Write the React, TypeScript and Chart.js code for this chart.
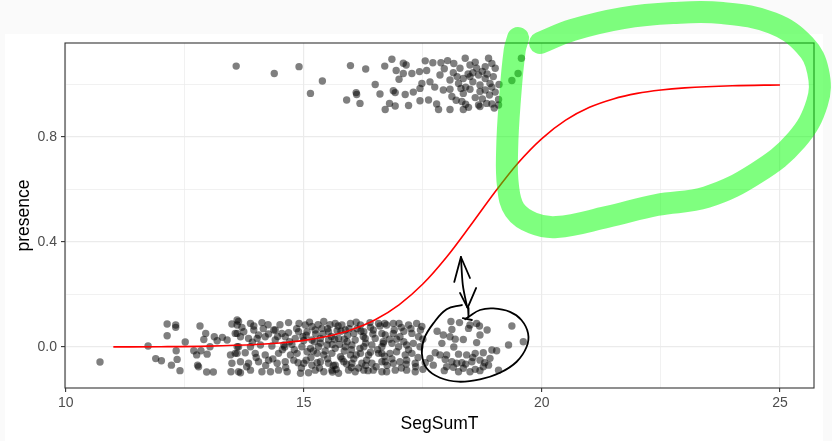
import React, { useEffect, useRef } from 'react';
import { Chart, registerables } from 'chart.js';
Chart.register(...registerables);

const FONT = '"Liberation Sans", Arial, sans-serif';
const X_TITLE = 'SegSumT';
const Y_TITLE = 'presence';
const X_RANGE = [9.985, 25.715];
const Y_RANGE = [-0.156, 1.158];
const X_TICKS = [10, 12.5, 15, 17.5, 20, 22.5, 25];
const X_MAJOR = [10, 15, 20, 25];
const Y_TICKS = [0, 0.2, 0.4, 0.6, 0.8, 1.0];
const Y_MAJOR = [0, 0.4, 0.8];

// presence = 0 (jittered)
const BOTTOM_POINTS: [number, number][] = [
  [10.72, -0.057], [11.73, 0.004], [11.89, -0.044], [12.01, -0.052], [12.13, 0.088], [12.31, 0.084],
  [12.31, 0.075], [12.13, 0.043], [12.32, -0.014], [12.34, -0.047], [12.22, -0.069], [12.40, -0.090],
  [12.51, 0.019], [12.82, 0.080], [12.94, 0.052], [12.90, 0.029], [12.69, -0.014], [12.75, -0.030],
  [12.84, -0.014], [12.97, -0.027], [12.77, -0.069], [12.79, -0.075], [12.96, -0.095], [13.10, -0.095],
  [13.12, 0.039], [13.18, 0.024], [13.29, 0.037], [13.39, 0.027], [13.03, 0.001], [13.49, 0.088],
  [13.60, 0.103], [13.60, 0.084], [13.56, 0.052], [13.46, -0.030], [13.49, -0.062], [13.47, -0.094],
  [13.63, -0.094], [13.60, 0.001], [13.56, -0.024],
  [13.63, 0.097], [13.88, 0.090], [14.12, 0.093], [14.37, 0.065], [14.68, 0.093], [15.03, 0.084],
  [15.17, 0.078], [15.42, 0.097], [15.66, 0.090], [15.80, 0.084], [15.98, 0.090], [16.19, 0.084],
  [16.39, 0.093], [16.57, 0.090],
  [13.60, 0.052], [13.74, 0.058], [13.95, 0.065], [14.05, 0.046], [14.26, 0.050], [14.54, 0.052],
  [14.68, 0.055], [14.89, 0.058], [15.07, 0.058], [15.24, 0.065], [15.38, 0.071], [15.52, 0.058],
  [15.70, 0.062], [15.87, 0.065], [16.05, 0.052], [16.26, 0.058], [16.46, 0.065], [16.64, 0.052],
  [13.67, 0.039], [13.84, 0.033], [14.02, 0.033], [14.19, 0.039], [14.40, 0.027], [14.61, 0.039],
  [14.82, 0.033], [14.98, 0.039], [15.17, 0.027], [15.35, 0.033], [15.52, 0.027], [15.73, 0.033],
  [15.91, 0.020], [16.08, 0.027], [16.29, 0.033], [16.50, 0.033], [16.67, 0.020],
  [13.63, 0.001], [13.88, 0.001], [14.09, 0.008], [14.33, 0.004], [14.58, 0.008], [14.96, 0.001],
  [15.14, -0.005], [15.31, 0.001], [15.49, 0.008], [15.66, -0.005], [15.87, 0.001], [16.01, 0.008],
  [16.26, 0.001], [16.43, 0.008], [16.64, 0.001],
  [13.60, -0.024], [13.77, -0.022], [13.98, -0.024], [14.19, -0.030], [14.47, -0.024], [14.72, -0.030],
  [14.86, -0.024], [15.07, -0.018], [15.28, -0.024], [15.42, -0.030], [15.59, -0.024], [15.77, -0.037],
  [15.98, -0.030], [16.19, -0.024], [16.36, -0.030], [16.57, -0.024],
  [13.67, -0.056], [13.84, -0.062], [14.05, -0.056], [14.26, -0.050], [14.44, -0.062], [14.61, -0.056],
  [14.79, -0.050], [15.00, -0.062], [15.17, -0.069], [15.35, -0.056], [15.52, -0.062], [15.66, -0.069],
  [15.84, -0.056], [16.01, -0.062], [16.22, -0.062], [16.43, -0.062], [16.64, -0.056],
  [13.67, -0.098], [13.88, -0.088], [14.12, -0.094], [14.30, -0.094], [14.47, -0.088], [14.65, -0.094],
  [14.93, -0.100], [15.10, -0.098], [15.24, -0.088], [15.42, -0.094], [15.59, -0.088], [15.73, -0.100],
  [15.94, -0.088], [16.08, -0.094], [16.26, -0.088], [16.46, -0.088], [16.64, -0.094],
  [14.85, 0.070], [15.05, 0.045], [15.22, 0.020], [15.40, 0.050], [15.55, 0.085], [15.60, 0.010],
  [15.78, 0.060], [15.92, 0.045], [16.12, 0.070], [16.30, 0.015], [15.15, -0.040], [15.33, -0.080],
  [15.50, -0.045], [15.68, -0.085], [15.85, -0.015], [16.05, -0.045], [16.15, -0.080], [16.32, -0.050],
  [16.52, -0.075], [16.70, -0.035], [16.90, 0.065], [17.05, 0.075], [17.20, -0.010], [17.35, -0.075],
  [17.50, 0.030], [17.55, -0.060], [14.40, 0.065], [14.55, -0.010], [14.75, 0.010], [14.20, -0.070],
  [14.95, -0.080], [16.80, 0.030], [17.10, 0.060], [17.45, 0.065], [16.40, 0.075],
  [13.70, 0.075], [13.92, 0.018], [14.00, -0.040], [14.15, 0.070], [14.35, -0.045], [14.50, 0.085],
  [14.62, -0.078], [14.70, 0.020], [14.88, -0.060], [15.00, 0.025], [15.12, 0.095], [15.28, -0.060],
  [15.30, 0.085], [15.45, -0.015], [15.58, 0.040], [15.62, -0.070], [15.72, 0.080], [15.80, -0.045],
  [15.95, 0.070], [16.00, -0.078], [16.10, 0.095], [16.18, -0.005], [16.25, 0.040], [16.35, -0.090],
  [16.45, 0.050], [16.55, -0.010], [16.60, 0.080], [16.75, -0.070], [16.95, 0.030], [17.05, -0.080],
  [17.10, 0.020], [17.25, 0.070], [17.40, -0.040], [17.50, -0.085], [15.50, 0.070], [15.35, 0.015],
  [15.65, 0.030], [15.85, 0.030], [16.20, 0.060], [16.00, -0.010], [15.20, -0.015], [15.05, -0.050],
  [14.80, -0.010], [14.90, 0.090], [16.40, -0.020], [16.70, 0.090], [16.85, -0.045], [17.00, 0.090],
  [17.15, -0.065], [13.80, -0.075], [13.95, 0.080], [14.25, 0.085], [14.45, 0.040], [14.60, 0.000],
  [15.90, -0.065], [16.10, -0.030], [15.60, -0.095], [15.25, 0.050], [15.75, 0.010], [16.30, -0.070],
  [16.74, 0.084], [16.88, 0.090], [17.20, 0.084], [17.37, 0.090], [17.48, 0.078], [16.71, 0.046],
  [16.88, 0.052], [17.02, 0.039], [17.27, 0.052], [17.41, 0.039], [16.67, 0.014], [16.85, 0.014],
  [16.99, 0.001], [17.16, 0.008], [17.30, 0.014], [17.44, 0.001], [16.64, -0.024], [16.81, -0.024],
  [16.95, -0.018], [17.13, -0.030], [17.27, -0.024], [16.71, -0.056], [16.88, -0.062], [17.02, -0.056],
  [17.16, -0.050], [17.34, -0.062], [16.74, -0.094], [16.92, -0.088], [17.16, -0.088], [17.34, -0.094],
  [18.09, 0.097], [18.27, 0.093], [18.49, 0.084], [18.63, 0.090], [18.69, 0.080], [18.46, 0.071],
  [18.11, 0.067], [18.70, 0.046], [17.93, 0.046], [18.07, 0.039], [18.35, 0.029], [18.63, 0.017],
  [17.90, 0.014], [19.37, 0.080], [19.61, 0.020], [19.30, 0.008], [17.76, -0.022], [17.86, -0.030],
  [18.00, -0.030], [18.25, -0.027], [18.42, -0.030], [18.60, -0.024], [18.77, -0.022], [18.95, -0.011],
  [19.05, -0.014], [17.65, -0.043], [17.97, -0.047], [18.11, -0.056], [18.21, -0.062], [18.32, -0.060],
  [18.53, -0.056], [18.70, -0.050], [18.91, -0.043], [17.72, -0.069], [18.00, -0.075], [18.14, -0.077],
  [18.35, -0.081], [18.60, -0.085], [18.77, -0.075], [18.88, -0.069], [19.09, -0.088], [18.25, -0.094],
  [18.49, -0.094], [18.70, -0.090],
  [18.18, 0.030], [18.55, -0.040], [18.40, -0.065], [18.80, -0.060], [17.95, -0.090], [18.15, 0.000],
  [17.80, 0.060], [18.85, 0.065],
];

// presence = 1 (jittered)
const TOP_POINTS: [number, number][] = [
  [13.58, 1.070], [14.38, 1.042], [14.90, 1.068], [15.39, 1.013], [15.14, 0.966], [15.98, 1.072],
  [16.30, 1.059], [16.10, 0.969], [16.11, 0.962], [15.90, 0.941], [16.18, 0.928],
  [16.85, 1.096], [17.09, 1.081], [17.15, 1.074], [16.94, 1.053], [17.09, 1.042], [17.27, 1.042],
  [17.43, 1.049], [17.58, 1.053], [17.71, 1.083], [17.88, 1.083], [18.02, 1.091], [17.86, 1.036],
  [17.48, 1.004], [18.14, 1.045], [18.28, 1.062], [18.39, 1.100], [18.49, 1.074], [18.63, 1.062],
  [18.81, 1.068], [19.02, 1.062], [18.88, 1.100], [18.07, 1.017], [18.25, 1.004], [18.35, 1.023],
  [18.49, 1.030], [18.67, 1.036], [18.81, 1.023], [18.98, 1.030], [18.91, 1.004], [18.70, 0.998],
  [16.60, 0.964], [16.88, 0.976], [16.92, 0.969], [17.13, 0.962], [17.30, 0.971], [17.44, 0.985],
  [17.93, 0.979], [18.07, 0.982], [18.11, 0.954], [18.35, 0.966], [18.49, 0.982], [18.70, 0.973],
  [18.81, 0.979], [19.02, 0.971], [19.09, 0.943], [16.80, 0.928], [16.92, 0.918], [16.71, 0.905],
  [17.44, 0.938], [17.62, 0.941], [17.79, 0.926], [17.83, 0.905], [18.07, 0.905], [18.32, 0.935],
  [18.46, 0.913], [18.67, 0.922], [18.70, 0.916], [18.84, 0.928], [18.95, 0.926], [19.09, 0.922],
  [18.35, 0.905], [19.57, 1.100], [19.50, 1.042], [19.37, 1.015],
  [18.55, 1.045], [18.75, 1.050], [18.60, 0.950], [18.90, 0.960], [18.40, 0.990], [18.95, 1.080],
  [18.20, 0.940],
  [17.00, 1.020], [17.20, 0.920], [17.55, 1.090], [17.75, 0.990], [17.95, 1.060], [18.15, 1.080],
  [18.30, 0.985], [18.45, 1.040], [18.60, 1.085], [18.75, 0.945], [18.85, 1.040], [19.00, 0.910],
  [19.10, 1.000], [18.55, 1.010], [18.22, 1.030], [17.65, 1.010], [16.70, 1.070], [16.50, 1.000],
  [18.95, 0.990], [18.40, 0.925],
];

// fitted logistic curve
const CURVE_X = [11, 12, 13, 14, 14.5, 15, 15.5, 16, 16.5, 17, 17.5, 18, 18.5, 19, 19.5, 20, 20.5, 21, 21.5, 22, 22.5, 23, 24, 25];
const CURVE_Y = [0.0005, 0.0013, 0.0035, 0.0095, 0.0155, 0.0253, 0.0411, 0.066, 0.104, 0.161, 0.24, 0.343, 0.463, 0.587, 0.701, 0.794, 0.864, 0.913, 0.945, 0.966, 0.979, 0.987, 0.9953, 0.9983];

// hand-drawn annotations (in data units)
const GREEN_LOOP: [number, number][] = [
  [19.50, 1.177], [19.43, 1.131], [19.33, 0.945], [19.27, 0.750], [19.29, 0.610], [19.43, 0.522],
  [19.81, 0.472], [20.31, 0.457], [21.36, 0.495], [22.41, 0.541], [23.46, 0.571], [24.51, 0.663],
  [25.35, 0.789], [25.78, 0.930], [25.80, 1.050], [25.52, 1.150], [24.84, 1.234], [23.79, 1.272],
  [22.75, 1.272], [21.70, 1.253], [20.65, 1.208], [19.96, 1.158],
];
const ELLIPSE: [number, number][] = [
  [18.32, 0.160], [18.00, 0.144], [17.72, 0.090], [17.53, 0.033], [17.48, -0.024], [17.58, -0.081],
  [17.86, -0.117], [18.25, -0.132], [18.70, -0.123], [19.12, -0.098], [19.47, -0.056], [19.68, 0.001],
  [19.71, 0.052], [19.57, 0.103], [19.33, 0.134], [18.98, 0.147], [18.70, 0.141], [18.46, 0.115],
  [18.39, 0.106],
];
const ARROW_SHAFT: [number, number][] = [[18.30, 0.343], [18.34, 0.236], [18.43, 0.152]];
const ARROW_UP: [number, number][] = [[18.16, 0.248], [18.30, 0.343], [18.49, 0.263]];
const ARROW_DOWN: [number, number][] = [[18.28, 0.206], [18.44, 0.149], [18.62, 0.225]];
const ARROW_STEM: [number, number][] = [[18.45, 0.149], [18.46, 0.114]];
const ARROW_BAR: [number, number][] = [[18.34, 0.110], [18.53, 0.103]];

const toXY = (a: [number, number][]) => a.map(([x, y]) => ({ x, y }));

const bgPlugin = {
  id: 'bgPanel',
  beforeDraw(chart: any) {
    const { ctx, width, height } = chart;
    ctx.save();
    ctx.fillStyle = '#fafafa';
    ctx.fillRect(0, 0, width, height);
    ctx.fillStyle = '#ffffff';
    ctx.fillRect(5, 34, 818, height - 34);
    ctx.restore();
  },
  beforeDatasetsDraw(chart: any) {
    const { ctx, chartArea } = chart;
    ctx.save();
    ctx.strokeStyle = '#333333';
    ctx.lineWidth = 1.1;
    ctx.strokeRect(chartArea.left, chartArea.top, chartArea.right - chartArea.left, chartArea.bottom - chartArea.top);
    ctx.restore();
  },
};

const inkLine = (data: [number, number][], tension: number) => ({
  type: 'scatter' as const,
  data: toXY(data),
  showLine: true,
  borderColor: '#000000',
  borderWidth: 1.8,
  pointRadius: 0,
  tension,
  borderCapStyle: 'round',
  borderJoinStyle: 'round',
  order: 1,
});

export default function App() {
  const ref = useRef<HTMLCanvasElement>(null);
  useEffect(() => {
    document.body.style.margin = '0';
    document.body.style.overflow = 'hidden';
    const isMajorX = (v: number) => X_MAJOR.includes(v);
    const isMajorY = (v: number) => Y_MAJOR.some((m) => Math.abs(m - v) < 1e-9);
    const chart = new Chart(ref.current as HTMLCanvasElement, {
      type: 'scatter',
      data: {
        datasets: [
          {
            data: toXY(GREEN_LOOP),
            showLine: true,
            borderColor: 'rgba(0,255,0,0.5)',
            borderWidth: 22,
            borderCapStyle: 'round',
            borderJoinStyle: 'round',
            pointRadius: 0,
            tension: 0.4,
            clip: false,
            order: 0,
          } as any,
          inkLine(ELLIPSE, 0.4) as any,
          inkLine(ARROW_SHAFT, 0.3) as any,
          inkLine(ARROW_UP, 0) as any,
          inkLine(ARROW_DOWN, 0) as any,
          inkLine(ARROW_STEM, 0) as any,
          inkLine(ARROW_BAR, 0) as any,
          {
            data: CURVE_X.map((x, i) => ({ x, y: CURVE_Y[i] })),
            showLine: true,
            borderColor: '#ff0000',
            borderWidth: 1.6,
            pointRadius: 0,
            cubicInterpolationMode: 'monotone',
            order: 2,
          } as any,
          {
            data: toXY(BOTTOM_POINTS).concat(toXY(TOP_POINTS)),
            backgroundColor: 'rgba(0,0,0,0.5)',
            borderWidth: 0,
            pointRadius: 3.7,
            order: 3,
          } as any,
        ],
      },
      options: {
        responsive: false,
        animation: false,
        events: [],
        layout: { padding: { left: 0, right: 18, top: 43, bottom: 0 } },
        plugins: { legend: { display: false }, tooltip: { enabled: false } },
        scales: {
          x: {
            type: 'linear',
            min: X_RANGE[0],
            max: X_RANGE[1],
            afterBuildTicks: (s: any) => { s.ticks = X_TICKS.map((v) => ({ value: v })); },
            afterFit: (s: any) => { s.height = 53; },
            border: { display: false },
            grid: {
              color: '#ebebeb',
              lineWidth: (c: any) => (isMajorX(c.tick?.value) ? 1.2 : 0.7),
              tickColor: (c: any) => (isMajorX(c.tick?.value) ? '#333333' : 'rgba(0,0,0,0)'),
              tickLength: 4,
              tickWidth: 1.1,
            },
            ticks: {
              autoSkip: false,
              maxRotation: 0,
              padding: 3,
              color: '#4d4d4d',
              font: { family: FONT, size: 14 },
              callback: (v: any) => (isMajorX(Number(v)) ? String(v) : ''),
            },
            title: {
              display: true,
              text: X_TITLE,
              color: '#000000',
              font: { family: FONT, size: 17.5 },
              padding: { top: 0, bottom: 6.5 },
            },
          },
          y: {
            type: 'linear',
            min: Y_RANGE[0],
            max: Y_RANGE[1],
            afterBuildTicks: (s: any) => { s.ticks = Y_TICKS.map((v) => ({ value: v })); },
            afterFit: (s: any) => { s.width = 65; },
            border: { display: false },
            grid: {
              color: '#ebebeb',
              lineWidth: (c: any) => (isMajorY(c.tick?.value) ? 1.2 : 0.7),
              tickColor: (c: any) => (isMajorY(c.tick?.value) ? '#333333' : 'rgba(0,0,0,0)'),
              tickLength: 4,
              tickWidth: 1.1,
            },
            ticks: {
              autoSkip: false,
              padding: 4,
              color: '#4d4d4d',
              font: { family: FONT, size: 14 },
              callback: (v: any) => (isMajorY(Number(v)) ? Number(v).toFixed(1) : ''),
            },
            title: {
              display: true,
              text: Y_TITLE,
              color: '#000000',
              font: { family: FONT, size: 17.5 },
              padding: { top: 13.5, bottom: 0 },
            },
          },
        },
      } as any,
      plugins: [bgPlugin],
    });
    return () => chart.destroy();
  }, []);
  return (
    <div style={{ width: 832, height: 441 }}>
      <canvas ref={ref} width={832} height={441} style={{ display: 'block' }} />
    </div>
  );
}
